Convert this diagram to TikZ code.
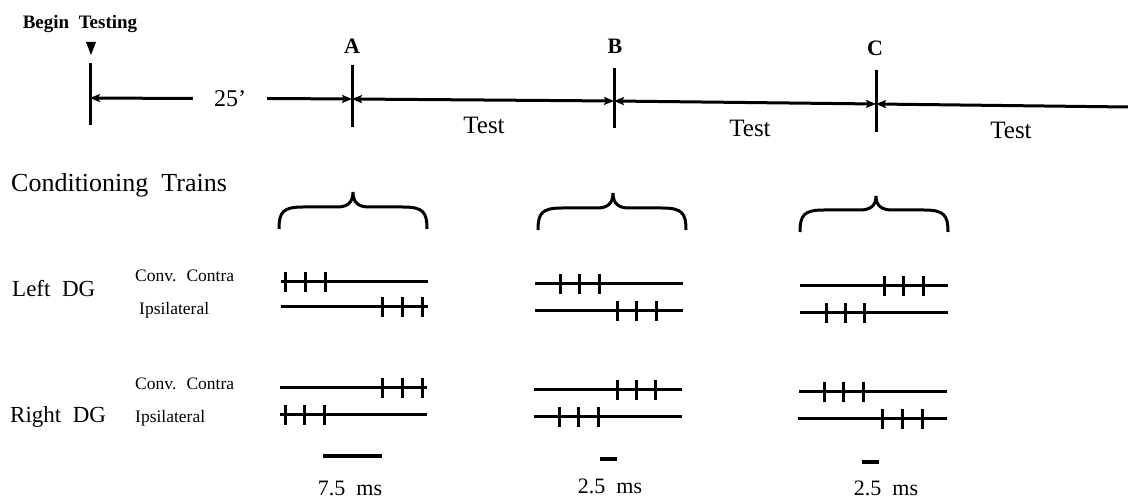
\documentclass[tikz,border=0pt]{standalone}
\usepackage{fontspec}
\setmainfont[WordSpace=2.0]{Liberation Serif}
\usetikzlibrary{arrows.meta}
\newcommand{\fs}[1]{\fontsize{#1}{#1}\selectfont}
\newcommand{\trainrow}[5]{%
  \draw[trace] (#1,#3) -- (#2,#3);
  \foreach \k in {0,1,2} \draw[spike] ({#4+\k*#5},{#3-10}) -- ({#4+\k*#5},{#3+10});
}
\newcommand{\cbrace}[6]{%
  \draw[brc] (#1,#4) .. controls (#1,{#5+5}) and ({#1+4},#5) .. ({#1+24},#5)
    -- ({#2-16},#5) .. controls ({#2-6},#5) and (#2,{#5-4}) .. (#2,#6)
    .. controls (#2,{#5-4}) and ({#2+6},#5) .. ({#2+16},#5)
    -- ({#3-24},#5) .. controls ({#3-4},#5) and (#3,{#5+5}) .. (#3,#4);
}
\begin{document}
\begin{tikzpicture}[x=1pt,y=-1pt,
  tl/.style={line width=3pt},
  vtick/.style={line width=3pt},
  trace/.style={line width=3pt},
  spike/.style={line width=3pt},
  brc/.style={line width=3pt},
  sbar/.style={line width=4.5pt},
  tip/.tip={Stealth[length=10pt,width=8pt,inset=2pt]},
  lbl/.style={inner sep=0pt},
]
\useasboundingbox (0,0) rectangle (1128,502);

% timeline
\coordinate (t0) at (90,98);
\coordinate (tA) at (352,99);
\coordinate (tB) at (614,101);
\coordinate (tC) at (876,104);
\coordinate (tE) at (1128,107);
\coordinate (b0) at (90,63);  \coordinate (e0) at (90,125);
\coordinate (bA) at (352,65); \coordinate (eA) at (352,127);
\coordinate (bB) at (614,68); \coordinate (eB) at (614,128);
\coordinate (bC) at (876,70); \coordinate (eC) at (876,132);
\draw[vtick] (b0) -- (e0);
\draw[vtick] (bA) -- (eA);
\draw[vtick] (bB) -- (eB);
\draw[vtick] (bC) -- (eC);

\node[lbl,font=\bfseries\fs{19}] (begin) at (80,24) {Begin Testing};
\fill (86,42) -- (96,42) -- (91,55) -- cycle;

\node[lbl,font=\bfseries\fs{22}] (la) at (352,46) {A};
\node[lbl,font=\bfseries\fs{22}] (lb) at (615,46) {B};
\node[lbl,font=\bfseries\fs{22}] (lc) at (875,48) {C};

\node[lbl,font=\fs{24},minimum width=74pt] (n25) at (230,98.5) {25’};
\draw[tl,-tip] (n25.west) -- (t0);
\draw[tl,-tip] (n25.east) -- (tA);
\draw[tl,tip-tip] (tA) -- (tB);
\draw[tl,tip-tip] (tB) -- (tC);
\draw[tl,tip-] (tC) -- (tE);

\node[lbl,font=\fs{25}] (test1) at (484,125) {Test};
\node[lbl,font=\fs{25}] (test2) at (750,128) {Test};
\node[lbl,font=\fs{25}] (test3) at (1011,130) {Test};

% labels
\node[lbl,font=\fs{26},anchor=base west] (cond) at (11,192) {Conditioning Trains};
\node[lbl,font=\fs{23},anchor=base west] (left) at (12,297) {Left DG};
\node[lbl,font=\fs{23},anchor=base west] (right) at (10,423) {Right DG};
\node[lbl,font=\fs{17.5},anchor=base west] (lcc) at (135,282) {Conv. Contra};
\node[lbl,font=\fs{17.5},anchor=base west] (lip) at (139,315) {Ipsilateral};
\node[lbl,font=\fs{17.5},anchor=base west] (rcc) at (135,390) {Conv. Contra};
\node[lbl,font=\fs{17.5},anchor=base west] (rip) at (135,423) {Ipsilateral};

% braces
\cbrace{279}{353}{427}{229}{207}{192}
\cbrace{538}{613}{686}{230}{208}{193}
\cbrace{800}{876}{948}{232}{210}{196}

% trains column A
\trainrow{281}{428}{282}{285}{20}
\trainrow{281}{428}{307}{382}{20}
\trainrow{280}{427}{388}{382}{20}
\trainrow{280}{427}{415}{285}{19.5}
% column B
\trainrow{535}{683}{284}{560}{19.5}
\trainrow{535}{683}{311}{617}{19.5}
\trainrow{534}{682}{390}{617}{19}
\trainrow{534}{682}{417}{559}{19.5}
% column C
\trainrow{800}{948}{286}{884}{19.5}
\trainrow{800}{948}{313}{826}{19}
\trainrow{799}{947}{392}{824}{19.5}
\trainrow{798}{947}{419}{882}{20}

% scale bars
\draw[sbar] (323,456) -- (382,456);
\draw[sbar] (600,459) -- (617,459);
\draw[sbar] (862,462) -- (879,462);
\node[lbl,font=\fs{22}] (s1) at (350,488) {7.5 ms};
\node[lbl,font=\fs{22}] (s2) at (610,486) {2.5 ms};
\node[lbl,font=\fs{22}] (s3) at (886,488) {2.5 ms};
\end{tikzpicture}
\end{document}
